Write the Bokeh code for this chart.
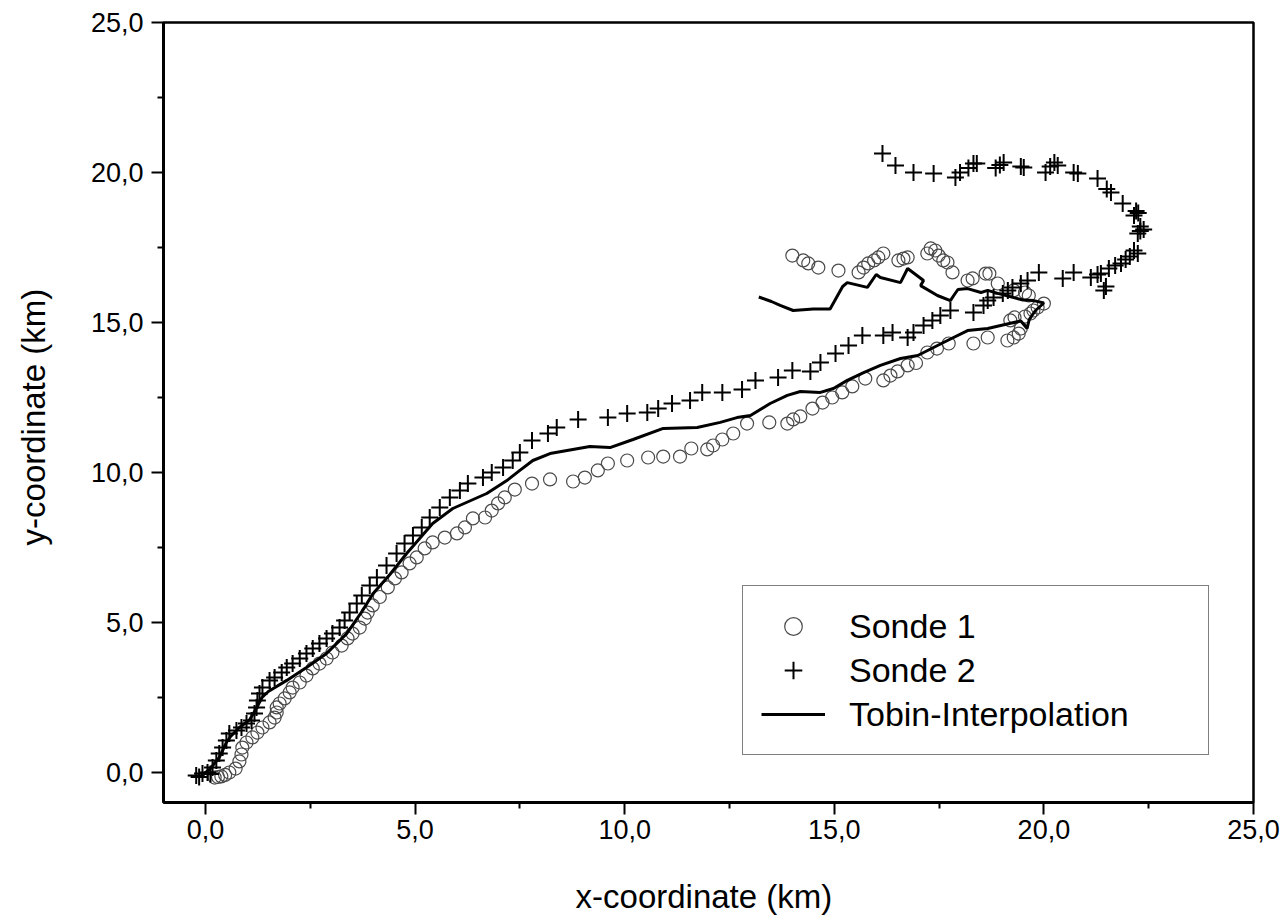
from bokeh.plotting import figure
from bokeh.models import FixedTicker, Legend, LegendItem, Range1d
from bokeh.embed import file_html
from bokeh.resources import INLINE

# ---------------- data (km) ----------------
sonde1_x = [0.22, 0.30, 0.38, 0.47, 0.57, 0.72, 0.81, 0.86, 0.88, 0.98, 1.12, 1.24, 1.36, 1.53, 1.65,
            1.70, 1.70, 1.77, 1.89, 2.01, 2.08, 2.25, 2.41, 2.56, 2.72, 2.89, 3.03, 3.25, 3.39, 3.51,
            3.68, 3.80, 3.87, 3.99, 4.16, 4.35, 4.52, 4.68, 4.87, 5.04, 5.23, 5.42, 5.71, 6.00, 6.19,
            6.38, 6.67, 6.83, 6.98, 7.14, 7.38, 7.79, 8.22, 8.77, 9.05, 9.36, 9.60, 10.06, 10.56, 10.92,
            11.32, 11.59, 11.97, 12.11, 12.33, 12.59, 12.92, 13.45, 13.88, 14.02, 14.19, 14.48, 14.72,
            14.95, 15.19, 15.43, 15.74, 16.17, 16.34, 16.51, 16.75, 16.95, 17.22, 17.45, 17.73, 18.32,
            18.66, 19.13, 19.28, 19.40, 19.45, 19.20, 19.30, 19.55, 19.68, 19.75, 19.85, 20.00,
            19.64, 19.55, 19.28, 18.90, 18.70, 18.61, 18.30, 18.18, 17.82, 17.70, 17.60, 17.49, 17.41,
            17.30, 17.22, 16.75, 16.65, 16.53, 16.17, 16.05, 15.95, 15.81, 15.70, 15.58, 15.10, 14.62,
            14.38, 14.26, 14.00]
sonde1_y = [-0.17, -0.15, -0.13, -0.08, 0.00, 0.13, 0.37, 0.60, 0.83, 1.00, 1.17, 1.33, 1.50, 1.67, 1.83,
            2.00, 2.17, 2.30, 2.47, 2.67, 2.83, 3.00, 3.23, 3.47, 3.63, 3.80, 4.00, 4.23, 4.47, 4.63,
            4.83, 5.13, 5.33, 5.57, 5.85, 6.17, 6.47, 6.67, 6.97, 7.17, 7.47, 7.67, 7.83, 7.97, 8.17,
            8.47, 8.50, 8.73, 8.97, 9.17, 9.43, 9.63, 9.77, 9.70, 9.83, 10.07, 10.30, 10.40, 10.50, 10.53,
            10.53, 10.80, 10.77, 10.90, 11.10, 11.30, 11.63, 11.67, 11.63, 11.77, 11.87, 12.13, 12.33,
            12.50, 12.67, 12.87, 13.13, 13.07, 13.23, 13.37, 13.57, 13.65, 14.00, 14.13, 14.30, 14.30,
            14.50, 14.40, 14.50, 14.63, 14.80, 15.07, 15.17, 15.20, 15.30, 15.40, 15.50, 15.63,
            15.90, 16.00, 16.07, 16.30, 16.63, 16.63, 16.47, 16.40, 16.67, 17.00, 17.07, 17.23, 17.40,
            17.47, 17.30, 17.17, 17.13, 17.07, 17.30, 17.17, 17.07, 16.97, 16.83, 16.67, 16.73, 16.83,
            16.97, 17.07, 17.23]

sonde2_x = [-0.22, -0.15, -0.07, 0.05, 0.12, 0.17, 0.26, 0.33, 0.41, 0.50, 0.57, 0.74, 0.86, 0.98, 1.10,
            1.17, 1.22, 1.24, 1.29, 1.36, 1.53, 1.65, 1.82, 1.94, 2.08, 2.25, 2.41, 2.56, 2.72, 2.89,
            3.03, 3.20, 3.32, 3.44, 3.61, 3.73, 3.92, 4.09, 4.32, 4.56, 4.75, 4.95, 5.16, 5.35, 5.59,
            5.83, 6.07, 6.26, 6.62, 6.83, 7.10, 7.33, 7.50, 7.79, 8.17, 8.38, 8.89, 9.60, 10.06, 10.54,
            10.80, 11.13, 11.56, 11.85, 12.33, 12.80, 13.12, 13.66, 14.00, 14.43, 14.67, 15.03, 15.34,
            15.67, 16.17, 16.39, 16.75, 16.89, 17.13, 17.34, 17.53, 17.77, 18.32, 18.56, 18.66, 18.80,
            19.02, 19.14, 19.25, 19.45, 19.61, 19.88, 20.45, 20.71,
            21.12, 21.28, 21.43, 21.48, 21.36, 21.55, 21.70, 21.84, 21.95, 22.05, 22.24, 22.15, 22.24,
            22.30, 22.38, 22.30, 22.15, 22.25, 22.20, 21.88, 21.60, 21.50, 21.28, 20.81, 20.71, 20.33,
            20.25, 20.15, 20.04, 19.52, 19.45, 19.04, 18.95, 18.85, 18.40, 18.32, 18.20, 18.00, 17.89,
            17.37, 16.89, 16.46, 16.15]
sonde2_y = [-0.10, -0.15, -0.03, 0.00, -0.05, 0.17, 0.40, 0.63, 0.83, 1.07, 1.30, 1.40, 1.50, 1.63, 1.73,
            1.97, 2.17, 2.40, 2.63, 2.83, 3.07, 3.17, 3.33, 3.50, 3.63, 3.80, 3.97, 4.13, 4.30, 4.47,
            4.63, 4.83, 5.07, 5.33, 5.63, 5.90, 6.23, 6.50, 6.90, 7.30, 7.63, 7.90, 8.17, 8.50, 8.83,
            9.17, 9.40, 9.63, 9.83, 10.00, 10.17, 10.40, 10.67, 11.07, 11.30, 11.50, 11.77, 11.83, 11.97, 12.00,
            12.13, 12.30, 12.40, 12.67, 12.67, 12.77, 13.07, 13.17, 13.40, 13.37, 13.67, 13.97, 14.23,
            14.57, 14.57, 14.67, 14.50, 14.67, 14.90, 15.07, 15.23, 15.40, 15.33, 15.57, 15.73, 15.83,
            15.97, 16.07, 16.17, 16.30, 16.40, 16.67, 16.47, 16.67,
            16.50, 16.60, 16.07, 16.20, 16.63, 16.80, 16.90, 16.97, 17.10, 17.20, 17.30, 17.40, 17.97,
            18.05, 18.10, 18.20, 18.57, 18.65, 18.72, 18.97, 19.33, 19.45, 19.80, 19.97, 20.00, 20.23,
            20.33, 20.20, 20.00, 20.17, 20.20, 20.33, 20.25, 20.15, 20.30, 20.30, 20.15, 20.00, 19.83,
            19.97, 20.00, 20.23, 20.63]

tobin_x = [-0.10, 0.10, 0.33, 0.50, 0.60, 0.81, 1.05, 1.20, 1.35, 1.50, 1.94, 2.41, 2.89, 3.37, 3.75,
           4.00, 4.40, 4.80, 5.42, 5.90, 6.71, 7.19, 7.50, 7.81, 8.22, 9.17, 9.65, 10.20, 10.92, 11.73,
           12.28, 12.68, 13.00, 13.47, 13.88, 14.19, 14.67, 14.98, 15.31, 15.70, 16.10, 16.58, 16.99,
           17.70, 18.18, 18.66, 18.97, 19.28, 19.45, 19.60, 19.65, 19.80, 20.00, 19.76, 19.50, 19.28,
           18.90, 18.66, 18.50, 18.18, 17.95, 17.85, 17.77, 17.46, 17.06, 17.13, 16.75, 16.58, 16.10,
           16.00, 15.79, 15.31, 15.20, 14.90, 14.50, 14.02, 13.71, 13.50, 13.20]
tobin_y = [-0.10, 0.10, 0.50, 1.00, 1.20, 1.50, 1.75, 2.10, 2.50, 2.70, 3.07, 3.50, 3.97, 4.63, 5.40,
           5.97, 6.60, 7.30, 8.30, 8.80, 9.30, 9.73, 10.07, 10.40, 10.63, 10.87, 10.83, 11.10, 11.47, 11.50,
           11.67, 11.83, 11.90, 12.30, 12.57, 12.70, 12.67, 12.80, 13.07, 13.33, 13.57, 13.80, 13.90,
           14.40, 14.73, 14.80, 14.90, 15.00, 15.05, 14.80, 15.10, 15.40, 15.65, 15.73, 15.75, 15.83,
           15.97, 16.07, 16.00, 16.13, 16.10, 15.90, 15.73, 15.90, 16.23, 16.40, 16.80, 16.33, 16.50,
           16.60, 16.17, 16.33, 16.20, 15.45, 15.45, 15.40, 15.57, 15.70, 15.85]

tick_values = [0, 5, 10, 15, 20, 25]
minor_tick_values = [2.5, 7.5, 12.5, 17.5, 22.5]
tick_labels = ["0,0", "5,0", "10,0", "15,0", "20,0", "25,0"]
series_names = ["Sonde 1", "Sonde 2", "Tobin-Interpolation"]

FONT = "Liberation Sans"

p = figure(width=1288, height=922,
           x_range=Range1d(-1, 25), y_range=Range1d(-1, 25),
           output_backend="svg", toolbar_location=None,
           min_border_left=163, min_border_right=35,
           min_border_top=22, min_border_bottom=120,
           background_fill_color="white", border_fill_color="white")

p.grid.visible = False
p.outline_line_color = "black"
p.outline_line_width = 2.5

r1 = p.scatter(sonde1_x, sonde1_y, marker="circle", size=13, fill_color=None,
               line_color="#4a4a4a", line_width=1.2)
r2 = p.scatter(sonde2_x, sonde2_y, marker="cross", size=17, line_color="black", line_width=2)
r3 = p.line(tobin_x, tobin_y, line_color="black", line_width=3)

for ax in (p.xaxis[0], p.yaxis[0]):
    ax.ticker = FixedTicker(ticks=tick_values, minor_ticks=minor_tick_values)
    ax.major_label_overrides = dict(zip(tick_values, tick_labels))
    ax.axis_line_width = 3
    ax.axis_line_color = "black"
    ax.major_tick_out = 12
    ax.major_tick_in = 0
    ax.minor_tick_out = 6
    ax.minor_tick_in = 0
    ax.major_tick_line_width = 2
    ax.minor_tick_line_width = 2
    ax.major_tick_line_color = "black"
    ax.minor_tick_line_color = "black"
    ax.major_label_text_font = FONT
    ax.major_label_text_font_size = "27px"
    ax.major_label_text_color = "black"
    ax.axis_label_text_font = FONT
    ax.axis_label_text_font_size = "33px"
    ax.axis_label_text_font_style = "normal"
    ax.axis_label_text_color = "black"

p.xaxis.axis_label = "x-coordinate  (km)"
p.yaxis.axis_label = "y-coordinate  (km)"
p.xaxis.major_label_standoff = 5
p.yaxis.major_label_standoff = 8
p.xaxis.axis_label_standoff = 36
p.yaxis.axis_label_standoff = 36

legend = Legend(items=[LegendItem(label=series_names[0], renderers=[r1]),
                       LegendItem(label=series_names[1], renderers=[r2]),
                       LegendItem(label=series_names[2], renderers=[r3])],
                location=(579, 47), margin=0, padding=18, spacing=0,
                glyph_width=64, glyph_height=44, label_height=44, label_width=341,
                label_standoff=24,
                label_text_font=FONT, label_text_font_size="34px", label_text_color="black",
                border_line_color="black", border_line_width=1.5,
                background_fill_color="white", background_fill_alpha=1)
p.add_layout(legend)

open("out.html", "w").write(file_html(p, INLINE))
